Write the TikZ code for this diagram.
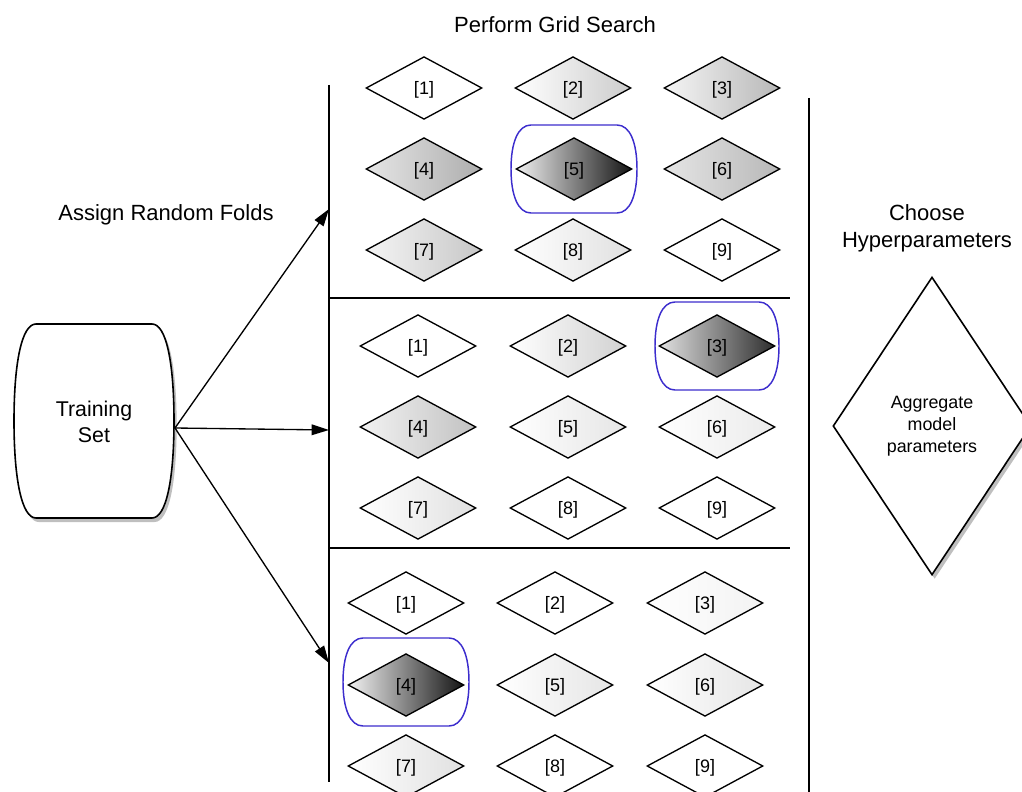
\documentclass[tikz,border=0pt]{standalone}
\usepackage{fontspec}
\setmainfont{Liberation Sans}
\usetikzlibrary{shapes.geometric,arrows.meta,shadows}
\definecolor{hl}{RGB}{60,45,205}
\newcommand{\barrelpath}[6]{%
\draw[#1] ({#2-#4+#6},{#3-#5}) -- ({#2+#4-#6},{#3-#5})
 .. controls ({#2+#4-0.35*#6},{#3-#5}) and ({#2+#4},{#3-0.6*#5}) .. ({#2+#4},{#3})
 .. controls ({#2+#4},{#3+0.6*#5}) and ({#2+#4-0.35*#6},{#3+#5}) .. ({#2+#4-#6},{#3+#5})
 -- ({#2-#4+#6},{#3+#5})
 .. controls ({#2-#4+0.35*#6},{#3+#5}) and ({#2-#4},{#3+0.6*#5}) .. ({#2-#4},{#3})
 .. controls ({#2-#4},{#3-0.6*#5}) and ({#2-#4+0.35*#6},{#3-#5}) .. cycle;}
\tikzset{
  gd/.style={shape=diamond, draw, line width=1pt, inner sep=0pt, text depth=0pt,
    minimum width=87pt, minimum height=47pt, font=\fontsize{13.5}{16}\selectfont},
  bigtext/.style={font=\fontsize{16.5}{20}\selectfont, align=center},
  arr/.style={line width=1pt, -{Triangle[length=13pt,width=8pt]}},
  rule/.style={line width=1.1pt},
  hlbox/.style={draw=hl, line width=1.1pt},
  shade/.style={drop shadow={shadow xshift=2pt, shadow yshift=-3pt, opacity=0.25, fill=black}}
}
\begin{document}
\begin{tikzpicture}[x=0.75pt, y=-0.75pt]
\useasboundingbox (0,0) rectangle (1022,792);
% titles
\node[bigtext] (title) at (555,25) {Perform Grid Search};
\node[bigtext] (assign) at (166,215) {Assign Random Folds};
\node[bigtext] (choose) at (927,228) {Choose\\Hyperparameters};
% rules
\coordinate (l1) at (329,85); \coordinate (l2) at (329,782);
\coordinate (r1) at (809,98); \coordinate (r2) at (809,792);
\coordinate (h1a) at (329,298); \coordinate (h1b) at (790,298);
\coordinate (h2a) at (329,548); \coordinate (h2b) at (790,548);
\draw[rule] (l1) -- (l2);
\draw[rule] (r1) -- (r2);
\draw[rule] (h1a) -- (h1b);
\draw[rule] (h2a) -- (h2b);
% training set
\barrelpath{line width=1.2pt, fill=white, shade}{94}{421}{80}{97}{22}
\node[font=\fontsize{16}{19.5}\selectfont, align=center] (ts) at (94,422) {Training\\Set};
\coordinate (tsr) at (175,428);
\coordinate (t1) at (329,209);
\coordinate (t2) at (329,430);
\coordinate (t3) at (329,663);
\draw[arr] (tsr) -- (t1);
\draw[arr] (tsr) -- (t2);
\draw[arr] (tsr) -- (t3);
% highlight boxes
\barrelpath{hlbox}{574}{169}{63}{44}{20}
\barrelpath{hlbox}{717}{346}{62}{44}{20}
\barrelpath{hlbox}{406}{682}{63}{44}{20}
% grid 1
\node[gd, fill=white] (a1) at (424,88) {[1]};
\node[gd, left color=white, right color=black!20] (a2) at (573,88) {[2]};
\node[gd, left color=black!4, right color=black!28] (a3) at (722,88) {[3]};
\node[gd, left color=black!10, right color=black!32] (a4) at (424,169) {[4]};
\node[gd, left color=black!6, right color=black!92] (a5) at (574,169) {[5]};
\node[gd, left color=black!10, right color=black!28] (a6) at (722,169) {[6]};
\node[gd, left color=black!4, right color=black!22] (a7) at (424,250) {[7]};
\node[gd, left color=white, right color=black!12] (a8) at (573,250) {[8]};
\node[gd, fill=white] (a9) at (722,250) {[9]};
% grid 2
\node[gd, fill=white] (b1) at (418,346) {[1]};
\node[gd, left color=white, right color=black!18] (b2) at (568,346) {[2]};
\node[gd, left color=black!12, right color=black!82] (b3) at (717,346) {[3]};
\node[gd, left color=black!5, right color=black!24] (b4) at (418,427) {[4]};
\node[gd, left color=white, right color=black!10] (b5) at (568,427) {[5]};
\node[gd, left color=white, right color=black!8] (b6) at (717,427) {[6]};
\node[gd, left color=white, right color=black!12] (b7) at (418,508) {[7]};
\node[gd, fill=white] (b8) at (568,508) {[8]};
\node[gd, fill=white] (b9) at (717,508) {[9]};
% grid 3
\node[gd, fill=white] (c1) at (406,603) {[1]};
\node[gd, fill=white] (c2) at (555,603) {[2]};
\node[gd, left color=white, right color=black!5] (c3) at (705,603) {[3]};
\node[gd, left color=black!5, right color=black!92] (c4) at (406,685) {[4]};
\node[gd, left color=white, right color=black!10] (c5) at (555,685) {[5]};
\node[gd, left color=white, right color=black!10] (c6) at (705,685) {[6]};
\node[gd, left color=white, right color=black!12] (c7) at (406,766) {[7]};
\node[gd, fill=white] (c8) at (555,766) {[8]};
\node[gd, fill=white] (c9) at (705,766) {[9]};
% aggregate
\node[shape=diamond, draw, line width=1.2pt, fill=white, shade, inner sep=0pt,
  minimum width=148.5pt, minimum height=223.5pt,
  font=\fontsize{13.4}{16.5}\selectfont, align=center] (agg) at (932,426)
  {Aggregate\\model\\parameters};
\end{tikzpicture}
\end{document}
